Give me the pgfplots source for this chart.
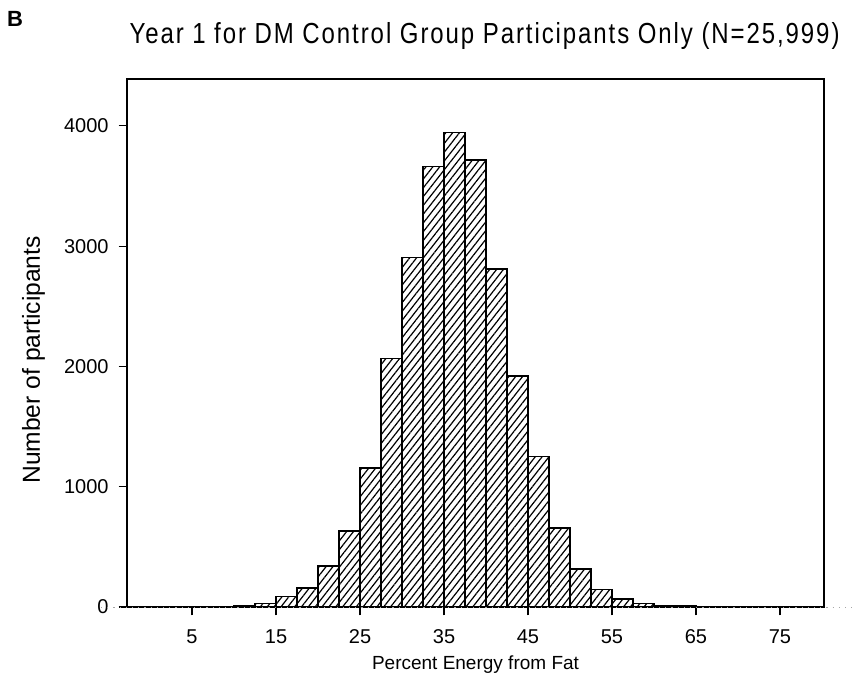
\documentclass[border=0pt]{standalone}
\usepackage{fontspec}
\setmainfont{Liberation Sans}
\newfontfamily\titlefont[LetterSpace=8]{Liberation Sans}
\usepackage{graphicx}
\usepackage{pgfplots}
\pgfplotsset{compat=1.18}
\usetikzlibrary{patterns.meta}

\begin{document}
\begin{tikzpicture}
% page = 852x677 px at 0.5bp per px, axis box at (127..824, 79..607) px
\useasboundingbox (-63.5bp,-35bp) rectangle (362.5bp,303.5bp);
\begin{axis}[
  scale only axis,
  width=348.5bp, height=264bp,
  xmin=-2.74, xmax=80.24,
  ymin=0, ymax=4390,
  xtick={5,15,...,75},
  ytick={0,1000,...,4000},
  xticklabels={5,15,25,35,45,55,65,75},
  yticklabels={0,1000,2000,3000,4000},
  xtick pos=left, ytick pos=left,
  tick align=outside,
  major tick length=4.2bp,
  tick style={black, line width=0.6bp},
  axis line style={line width=0.7bp},
  every tick label/.append style={font=\fontsize{10bp}{12bp}\selectfont},
  xticklabel style={yshift=-3.5bp},
  yticklabel style={xshift=-1.5bp},
  xlabel={Percent Energy from Fat},
  xlabel style={at={(rel axis cs:0.5,-0.11)}, anchor=center, font=\fontsize{9.5bp}{11bp}\selectfont},
  ylabel={Number of participants},
  ylabel style={at={(rel axis cs:-0.134,0.468)}, anchor=center, font=\fontsize{12.3bp}{14bp}\selectfont},
  title={\resizebox{355bp}{\height}{\titlefont\fontsize{14.5bp}{16bp}\selectfont Year 1 for DM Control Group Participants Only (N=25,999)}},
  title style={at={(rel axis cs:0.513,1.044)}, anchor=base, inner sep=0pt},
  clip=false,
]
\addplot[ybar interval, draw=black, line width=0.6bp,
  pattern={Lines[angle=52,distance=2.7bp,line width=0.6bp]}, pattern color=black]
  coordinates {
  (0,1) (2.5,1) (5,2) (7.5,3) (10,8) (12.5,32) (15,86) (17.5,158)
  (20,341) (22.5,632) (25,1155) (27.5,2065) (30,2907) (32.5,3660)
  (35,3943) (37.5,3716) (40,2810) (42.5,1920) (45,1253) (47.5,657)
  (50,316) (52.5,147) (55,66) (57.5,31) (60,14) (62.5,8) (65,4)
  (67.5,3) (70,2) (72.5,1) (75,1) (77.5,1) (80,1)
  };
\end{axis}
% faint dotted baseline running past the frame
\draw[gray!70, line width=0.3bp, dash pattern=on 0.6bp off 2.5bp] (-13bp,0) -- (362.5bp,0);
\node[font=\bfseries\fontsize{11bp}{13bp}\selectfont, anchor=center] at (-56bp,294bp) {B};
\end{tikzpicture}
\end{document}
